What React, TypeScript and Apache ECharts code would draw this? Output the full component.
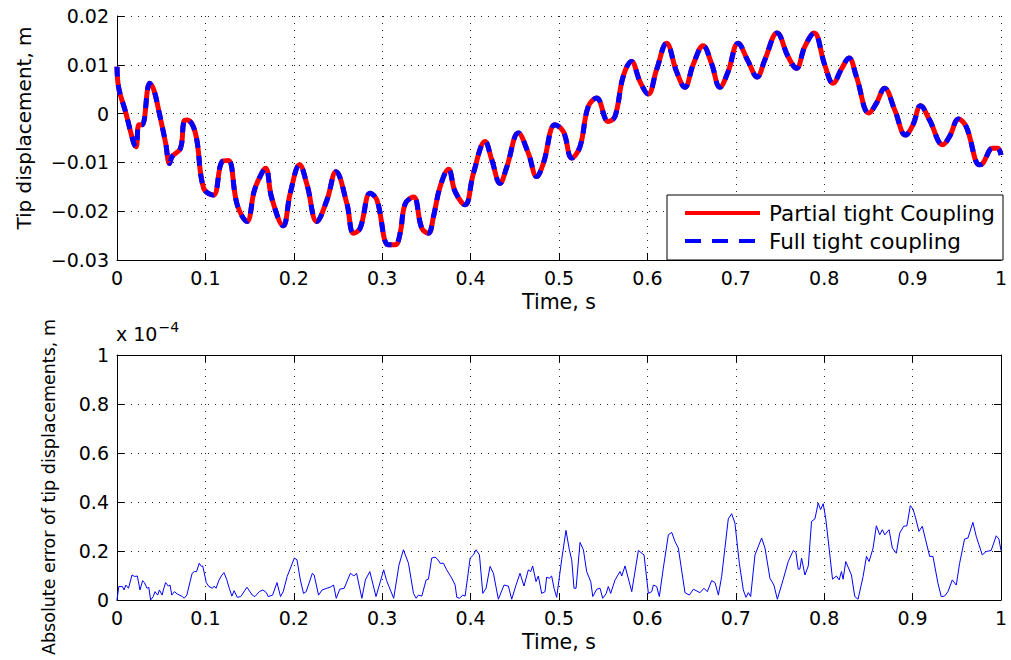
import React, { useEffect, useRef } from "react";
import * as echarts from "echarts";

// Top panel: tip displacement (m) vs time (s)
const topTime = [
  0, 0.002, 0.0096, 0.019, 0.0217, 0.0247, 0.0285, 0.037, 0.0416, 0.047,
  0.055, 0.0593, 0.0624, 0.0718, 0.0756, 0.0793, 0.0887, 0.098, 0.109, 0.119,
  0.126, 0.136, 0.147, 0.155, 0.16, 0.168, 0.175, 0.188, 0.196, 0.2066,
  0.215, 0.226, 0.2375, 0.2477, 0.26, 0.2676, 0.275, 0.2864, 0.294, 0.307,
  0.3147, 0.3203, 0.326, 0.3354, 0.3448, 0.3523, 0.358, 0.3655, 0.375, 0.3825,
  0.3938, 0.4032, 0.4164, 0.424, 0.4333, 0.441, 0.454, 0.4653, 0.4748, 0.4823,
  0.4955, 0.505, 0.5144, 0.5237, 0.533, 0.5426, 0.5557, 0.5633, 0.5726, 0.582,
  0.5915, 0.6009, 0.6104, 0.6217, 0.633, 0.6424, 0.6517, 0.663, 0.6725, 0.682,
  0.6913, 0.7026, 0.714, 0.7241, 0.7328, 0.7467, 0.7591, 0.7686, 0.778, 0.7885,
  0.8006, 0.81, 0.8194, 0.828, 0.8364, 0.8506, 0.859, 0.8683, 0.8797, 0.892,
  0.9004, 0.909, 0.9192, 0.9342, 0.9418, 0.952, 0.9607, 0.9757, 0.9794, 0.9907,
  0.9963, 1.0,
];
const partialTight = [
  0.0096, 0.0052, 0.0004, -0.0061, -0.0068, -0.0023, -0.0023, 0.0062, 0.0049, 0.0008,
  -0.006, -0.0102, -0.0088, -0.0071, -0.0016, -0.0013, -0.004, -0.0153, -0.0167, -0.0098,
  -0.0096, -0.0187, -0.0221, -0.016, -0.0136, -0.0112, -0.0173, -0.023, -0.0163, -0.0105,
  -0.0146, -0.0221, -0.0177, -0.0119, -0.0184, -0.0245, -0.0235, -0.0163, -0.0177, -0.0269,
  -0.0269, -0.0245, -0.0185, -0.0171, -0.0235, -0.0245, -0.0211, -0.015, -0.0114, -0.016,
  -0.0187, -0.0122, -0.0057, -0.0095, -0.0143, -0.0109, -0.004, -0.0081, -0.0129, -0.0102,
  -0.0023, -0.0037, -0.0091, -0.0068, 0.0014, 0.0032, -0.0016, -0.0006, 0.0076, 0.0107,
  0.0066, 0.004, 0.009, 0.0144, 0.0086, 0.0054, 0.01, 0.0139, 0.0103, 0.0054,
  0.0086, 0.0144, 0.0107, 0.0075, 0.011, 0.0165, 0.0117, 0.0093, 0.0137, 0.0165,
  0.01, 0.0062, 0.0091, 0.0114, 0.0076, 0.0001, 0.0021, 0.0052, 0.0008, -0.0044,
  -0.0023, 0.0016, -0.0013, -0.0064, -0.0047, -0.0011, -0.0027, -0.0105, -0.0102, -0.0071,
  -0.0071, -0.0085,
];
const fullTight = [
  0.0096, 0.0052, 0.0004, -0.0061, -0.0068, -0.0023, -0.0023, 0.0062, 0.0049, 0.0008,
  -0.006, -0.0102, -0.0088, -0.0071, -0.0016, -0.0013, -0.004, -0.0153, -0.0167, -0.0098,
  -0.0096, -0.0187, -0.0221, -0.016, -0.0136, -0.0112, -0.0173, -0.023, -0.0163, -0.0105,
  -0.0146, -0.0221, -0.0177, -0.0119, -0.0184, -0.0245, -0.0235, -0.0163, -0.0177, -0.0269,
  -0.0269, -0.0245, -0.0185, -0.0171, -0.0235, -0.0245, -0.0211, -0.015, -0.0114, -0.016,
  -0.0187, -0.0122, -0.0057, -0.0095, -0.0143, -0.0109, -0.004, -0.0081, -0.0129, -0.0102,
  -0.0023, -0.0037, -0.0091, -0.0068, 0.0014, 0.0032, -0.0016, -0.0006, 0.0076, 0.0107,
  0.0066, 0.004, 0.009, 0.0144, 0.0086, 0.0054, 0.01, 0.0139, 0.0103, 0.0054,
  0.0086, 0.0144, 0.0107, 0.0075, 0.011, 0.0165, 0.0117, 0.0093, 0.0137, 0.0165,
  0.01, 0.0062, 0.0091, 0.0114, 0.0076, 0.0001, 0.0021, 0.0052, 0.0008, -0.0044,
  -0.0023, 0.0016, -0.0013, -0.0064, -0.0047, -0.0011, -0.0027, -0.0105, -0.0102, -0.0071,
  -0.0071, -0.0085,
];

// Bottom panel: absolute error (x 1e-4 m) vs time (s)
const errTime = [
  0, 0.002, 0.006, 0.008, 0.01, 0.013, 0.017, 0.02, 0.023, 0.026,
  0.029, 0.031, 0.034, 0.036, 0.038, 0.041, 0.043, 0.046, 0.048, 0.051,
  0.053, 0.055, 0.058, 0.06, 0.062, 0.065, 0.068, 0.074, 0.076, 0.079,
  0.085, 0.0875, 0.09, 0.093, 0.0955, 0.097, 0.101, 0.104, 0.108, 0.11,
  0.112, 0.1155, 0.118, 0.121, 0.124, 0.127, 0.13, 0.1325, 0.136, 0.14,
  0.147, 0.153, 0.156, 0.161, 0.165, 0.169, 0.171, 0.176, 0.181, 0.185,
  0.188, 0.1925, 0.2006, 0.2036, 0.2074, 0.211, 0.214, 0.221, 0.223, 0.228,
  0.232, 0.2375, 0.241, 0.245, 0.248, 0.252, 0.257, 0.264, 0.268, 0.271,
  0.277, 0.281, 0.286, 0.293, 0.3017, 0.305, 0.313, 0.319, 0.324, 0.3297,
  0.3354, 0.3384, 0.341, 0.3448, 0.3497, 0.3523, 0.356, 0.3598, 0.3625, 0.3655,
  0.3693, 0.373, 0.3787, 0.3825, 0.3844, 0.3874, 0.3912, 0.3938, 0.3995, 0.4032,
  0.4062, 0.41, 0.4138, 0.4175, 0.422, 0.4258, 0.4314, 0.4378, 0.4427, 0.4465,
  0.4514, 0.4559, 0.4604, 0.4653, 0.468, 0.4702, 0.474, 0.4766, 0.4804, 0.4842,
  0.486, 0.489, 0.4917, 0.4944, 0.4974, 0.503, 0.5079, 0.5117, 0.5144, 0.517,
  0.5193, 0.5238, 0.5276, 0.5313, 0.5359, 0.5382, 0.5427, 0.5464, 0.5494, 0.5532,
  0.5558, 0.5585, 0.5634, 0.569, 0.571, 0.5747, 0.5823, 0.5898, 0.5962, 0.6011,
  0.6049, 0.6068, 0.6105, 0.6135, 0.618, 0.6237, 0.6275, 0.6312, 0.635, 0.6425,
  0.6474, 0.652, 0.6595, 0.664, 0.6678, 0.6727, 0.6765, 0.6803, 0.684, 0.6915,
  0.6953, 0.699, 0.704, 0.7085, 0.7115, 0.7142, 0.7168, 0.7217, 0.7292, 0.733,
  0.7386, 0.7431, 0.747, 0.7537, 0.7593, 0.765, 0.768, 0.7706, 0.7725, 0.7744,
  0.7782, 0.782, 0.7857, 0.7895, 0.7932, 0.7959, 0.7989, 0.8019, 0.8064, 0.8094,
  0.8139, 0.8169, 0.8195, 0.8214, 0.8244, 0.8308, 0.8346, 0.8383, 0.844, 0.8478,
  0.8508, 0.8553, 0.859, 0.8628, 0.8658, 0.8685, 0.8734, 0.8771, 0.8816, 0.8854,
  0.8899, 0.8936, 0.8974, 0.9004, 0.9034, 0.9072, 0.911, 0.9147, 0.9193, 0.923,
  0.9287, 0.9324, 0.9362, 0.94, 0.9449, 0.9494, 0.9532, 0.9588, 0.9626, 0.9682,
  0.972, 0.9788, 0.9833, 0.9889, 0.9946, 0.9976, 1.0,
];
const absError = [
  0, 0.055, 0.055, 0.041, 0.061, 0.048, 0.102, 0.096, 0.098, 0.041,
  0.079, 0.071, 0.048, 0.052, 0, 0.014, 0.034, 0.02, 0.041, 0.02,
  0.048, 0.071, 0.057, 0.061, 0.02, 0.034, 0.025, 0.014, 0.007, 0.02,
  0.109, 0.116, 0.116, 0.15, 0.137, 0.139, 0.071, 0.055, 0.048, 0.057,
  0.048, 0.082, 0.098, 0.112, 0.085, 0.048, 0.016, 0.038, 0.011, 0.014,
  0.052, 0.02, 0.014, 0.034, 0.041, 0.03, 0.014, 0.02, 0.071, 0.014,
  0.034, 0.096, 0.171, 0.164, 0.082, 0.027, 0.034, 0.109, 0.102, 0.02,
  0.041, 0.048, 0.052, 0.061, 0.007, 0.044, 0.048, 0.109, 0.098, 0.109,
  0.007, 0.082, 0.116, 0.014, 0.123, 0.079, 0.007, 0.143, 0.205, 0.15,
  0.027, 0.007, 0.02, 0.016, 0.082, 0.085, 0.171, 0.175, 0.167, 0.15,
  0.15, 0.123, 0.089, 0.061, 0.011, 0.007, 0.02, 0.016, 0.171, 0.184,
  0.205, 0.184, 0.027, 0.048, 0.137, 0.109, 0.003, 0.061, 0.057, 0.003,
  0.061, 0.109, 0.057, 0.123, 0.116, 0.139, 0.075, 0.098, 0.027, 0.034,
  0.093, 0.089, 0.098, 0.048, 0.011, 0.164, 0.284, 0.205, 0.164, 0.048,
  0.048, 0.235, 0.205, 0.116, 0.075, 0.014, 0.044, 0.048, 0.007, 0.025,
  0.055, 0.027, 0.082, 0.116, 0.098, 0.139, 0.034, 0.202, 0.184, 0.027,
  0.034, 0.061, 0.055, 0.014, 0.13, 0.266, 0.276, 0.239, 0.212, 0.03,
  0.02, 0.044, 0.03, 0.048, 0.034, 0.079, 0.071, 0.02, 0.096, 0.331,
  0.352, 0.314, 0.15, 0.041, 0.011, 0.03, 0.014, 0.184, 0.253, 0.212,
  0.089, 0.061, 0.003, 0.085, 0.157, 0.202, 0.194, 0.126, 0.126, 0.171,
  0.102, 0.139, 0.321, 0.331, 0.396, 0.369, 0.393, 0.328, 0.184, 0.085,
  0.098, 0.082, 0.116, 0.085, 0.157, 0.102, 0.014, 0.003, 0.096, 0.178,
  0.157, 0.212, 0.303, 0.266, 0.287, 0.266, 0.287, 0.212, 0.191, 0.273,
  0.301, 0.303, 0.385, 0.372, 0.335, 0.28, 0.301, 0.246, 0.178, 0.178,
  0.068, 0.014, 0.016, 0.034, 0.082, 0.061, 0.15, 0.249, 0.253, 0.317,
  0.26, 0.184, 0.198, 0.202, 0.262, 0.249, 0.202,
];

const seriesNames = ["Partial tight Coupling", "Full tight coupling"];
const xAxisTitle = "Time, s";
const topYTitle = "Tip displacement, m";
const bottomYTitle = "Absolute error of tip displacements, m";

const FONT = "DejaVu Sans";

function fmtNum(v: number, digits: number): string {
  const r = parseFloat(v.toFixed(digits));
  if (r === 0) return "0";
  return String(r).replace("-", "\u2212");
}

export default function App() {
  const ref = useRef<HTMLDivElement>(null);

  useEffect(() => {
    document.body.style.margin = "0";
    if (!ref.current) return;
    const chart = echarts.init(ref.current, undefined, { renderer: "svg" });

    const zip = (xs: number[], ys: number[]) => xs.map((x, i) => [x, ys[i]]);

    const gridLeft = 117;
    const gridRight = 10;
    const splitLine = {
      show: true,
      lineStyle: { color: "#222", width: 1, type: [1, 6] as any },
    };
    const axisLine = { show: true, onZero: false, lineStyle: { color: "#000", width: 1 } };
    const axisTick = { show: true, inside: true, length: 7, lineStyle: { color: "#000" } };
    const labelStyle = { color: "#000", fontFamily: FONT, fontSize: 19 };

    const xBase = (gridIndex: number) => ({
      type: "value",
      gridIndex,
      min: 0,
      max: 1,
      interval: 0.1,
      axisLine,
      axisTick,
      splitLine,
    });

    chart.setOption({
      animation: false,
      backgroundColor: "#fff",
      grid: [
        { left: gridLeft, right: gridRight, top: 16, height: 244 },
        { left: gridLeft, right: gridRight, top: 355, height: 245 },
      ],
      legend: {
        show: true,
        orient: "vertical",
        left: 667,
        top: 195,
        padding: [7, 8, 8, 16],
        itemGap: 6,
        itemWidth: 75,
        itemHeight: 22,
        backgroundColor: "#fff",
        borderColor: "#000",
        borderWidth: 1,
        borderRadius: 0,
        itemStyle: { opacity: 0 },
        lineStyle: { width: 4 },
        textStyle: { color: "#000", fontFamily: FONT, fontSize: 21.5, padding: [0, 0, 0, 4] },
        data: [
          { name: seriesNames[0] },
          { name: seriesNames[1], lineStyle: { type: [16, 11], width: 4 } },
        ],
      },
      xAxis: [
        {
          ...xBase(0),
          axisLabel: { ...labelStyle, margin: 8, formatter: (v: number) => fmtNum(v, 1) },
          name: xAxisTitle,
          nameLocation: "middle",
          nameGap: 31,
          nameTextStyle: { color: "#000", fontFamily: FONT, fontSize: 20.5 },
        },
        {
          ...xBase(1),
          axisLabel: { ...labelStyle, margin: 8, formatter: (v: number) => fmtNum(v, 1) },
          name: xAxisTitle,
          nameLocation: "middle",
          nameGap: 31,
          nameTextStyle: { color: "#000", fontFamily: FONT, fontSize: 20.5 },
        },
        {
          ...xBase(1),
          position: "top",
          axisLabel: { show: false },
          splitLine: { show: false },
        },
      ],
      yAxis: [
        {
          type: "value",
          gridIndex: 0,
          min: -0.03,
          max: 0.02,
          interval: 0.01,
          axisLine,
          axisTick,
          splitLine,
          axisLabel: { ...labelStyle, margin: 8, formatter: (v: number) => fmtNum(v, 3) },
        },
        {
          type: "value",
          gridIndex: 1,
          min: 0,
          max: 1,
          interval: 0.2,
          axisLine,
          axisTick,
          splitLine,
          axisLabel: { ...labelStyle, margin: 8, formatter: (v: number) => fmtNum(v, 1) },
        },
        {
          type: "value",
          gridIndex: 1,
          position: "right",
          min: 0,
          max: 1,
          interval: 0.2,
          axisLine,
          axisTick,
          splitLine: { show: false },
          axisLabel: { show: false },
        },
      ],
      series: [
        {
          name: seriesNames[0],
          type: "line",
          xAxisIndex: 0,
          yAxisIndex: 0,
          data: zip(topTime, partialTight),
          smooth: 0.4,
          showSymbol: false,
          symbol: "none",
          lineStyle: { color: "#ff0000", width: 5 },
          itemStyle: { color: "#ff0000" },
        },
        {
          name: seriesNames[1],
          type: "line",
          xAxisIndex: 0,
          yAxisIndex: 0,
          data: zip(topTime, fullTight),
          smooth: 0.4,
          showSymbol: false,
          symbol: "none",
          lineStyle: { color: "#0000ff", width: 5, type: [10, 8] },
          itemStyle: { color: "#0000ff" },
        },
        {
          name: "Absolute error",
          type: "line",
          xAxisIndex: 1,
          yAxisIndex: 1,
          data: zip(errTime, absError),
          showSymbol: false,
          symbol: "none",
          lineStyle: { color: "#0000ff", width: 1 },
        },
      ],
      graphic: [
        {
          type: "text",
          x: 24,
          y: 128,
          rotation: Math.PI / 2,
          style: {
            text: topYTitle,
            fill: "#000",
            font: `20px "${FONT}"`,
            textAlign: "center",
            textVerticalAlign: "middle",
          },
        },
        {
          type: "text",
          x: 49,
          y: 487,
          rotation: Math.PI / 2,
          style: {
            text: bottomYTitle,
            fill: "#000",
            font: `17.5px "${FONT}"`,
            textAlign: "center",
            textVerticalAlign: "middle",
          },
        },
        {
          type: "text",
          x: 116,
          y: 348,
          style: {
            text: "{a|x 10}{b|\u22124}",
            textVerticalAlign: "bottom",
            rich: {
              a: { fontFamily: FONT, fontSize: 19, fill: "#000", color: "#000" },
              b: {
                fontFamily: FONT,
                fontSize: 14,
                fill: "#000",
                color: "#000",
                verticalAlign: "top",
                padding: [0, 0, 14, 1],
              },
            },
          },
        },
      ],
    });

    return () => chart.dispose();
  }, []);

  return <div ref={ref} style={{ width: 1011, height: 660 }} />;
}
